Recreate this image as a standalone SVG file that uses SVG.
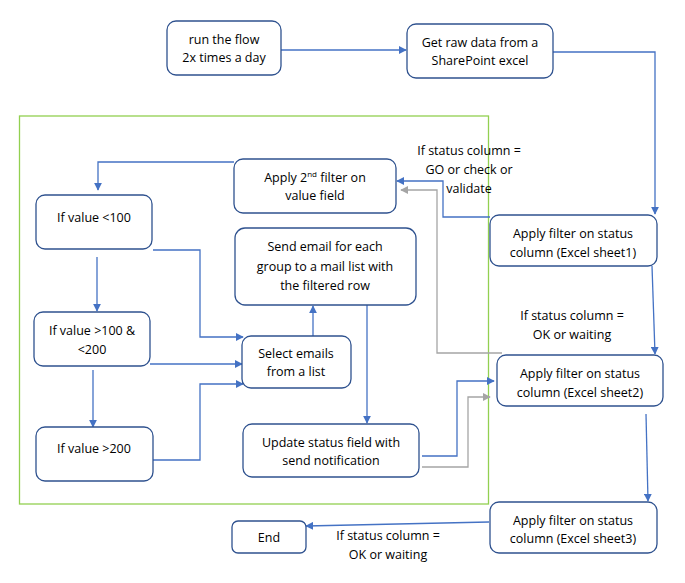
<svg xmlns="http://www.w3.org/2000/svg" width="685" height="583" viewBox="0 0 685 583">
<defs>
<marker id="ab" viewBox="0 0 10 10" refX="9" refY="5" markerWidth="8" markerHeight="8" markerUnits="userSpaceOnUse" orient="auto"><path d="M0,0 L10,5 L0,10 z" fill="#4472C4"/></marker>
<marker id="ag" viewBox="0 0 10 10" refX="9" refY="5" markerWidth="8" markerHeight="8" markerUnits="userSpaceOnUse" orient="auto"><path d="M0,0 L10,5 L0,10 z" fill="#A5A5A5"/></marker>
</defs>
<style>
.box{fill:#fff;stroke:#2F528F;stroke-width:1.3}
.t{font-family:"Open Sans","Liberation Sans",sans-serif;font-size:12.5px;fill:#000;text-anchor:middle}
.c{fill:none;stroke:#4472C4;stroke-width:1.3}
.g{fill:none;stroke:#A5A5A5;stroke-width:1.3}
</style>
<rect width="685" height="583" fill="#fff"/>
<rect id="container" x="19.5" y="116" width="469" height="388" fill="none" stroke="#92D050" stroke-width="1.3"/>
<g id="connectors">
<path class="c" d="M281,50 L406,50" marker-end="url(#ab)"/>
<path class="c" d="M553,52 L655,52 L655,214" marker-end="url(#ab)"/>
<path class="c" d="M652,266 L655,354" marker-end="url(#ab)"/>
<path class="c" d="M646,414 L648,501" marker-end="url(#ab)"/>
<path class="c" d="M489,522 L306,526" marker-end="url(#ab)"/>
<path class="c" d="M490,217 L443,217 L443,181 L397,181" marker-end="url(#ab)"/>
<path class="g" d="M502,353 L437,353 L437,190 L401,190" marker-end="url(#ag)"/>
<path class="c" d="M234,162 L98,162 L98,190" marker-end="url(#ab)"/>
<path class="c" d="M97,257 L97,311" marker-end="url(#ab)"/>
<path class="c" d="M93,370 L93,427" marker-end="url(#ab)"/>
<path class="c" d="M153,250 L200,250 L200,337 L243,337" marker-end="url(#ab)"/>
<path class="c" d="M150,364 L242,364" marker-end="url(#ab)"/>
<path class="c" d="M153,460 L200,460 L200,384 L243,384" marker-end="url(#ab)"/>
<path class="c" d="M313,336 L313,306" marker-end="url(#ab)"/>
<path class="c" d="M367,305 L367,423" marker-end="url(#ab)"/>
<path class="c" d="M422,456 L457,456 L457,381 L494,381" marker-end="url(#ab)"/>
<path class="g" d="M422,467 L468,467 L468,397 L490,397" marker-end="url(#ag)"/>
</g>
<g id="n-run"><rect class="box" x="167" y="21" width="114" height="54" rx="9"/><text class="t" x="224" y="44">run the flow</text><text class="t" x="224" y="62">2x times a day</text></g>
<g id="n-raw"><rect class="box" x="407" y="24" width="146" height="54" rx="9"/><text class="t" x="480" y="47">Get raw data from a</text><text class="t" x="480" y="65">SharePoint excel</text></g>
<g id="n-sheet1"><rect class="box" x="490" y="215" width="167" height="51" rx="9"/><text class="t" x="573" y="238">Apply filter on status</text><text class="t" x="573" y="257">column (Excel sheet1)</text></g>
<g id="n-sheet2"><rect class="box" x="497" y="355" width="166" height="51" rx="9"/><text class="t" x="580" y="378">Apply filter on status</text><text class="t" x="580" y="397">column (Excel sheet2)</text></g>
<g id="n-sheet3"><rect class="box" x="490" y="502" width="167" height="51" rx="9"/><text class="t" x="573" y="525">Apply filter on status</text><text class="t" x="573" y="543">column (Excel sheet3)</text></g>
<g id="n-end"><rect class="box" x="232" y="521" width="74" height="32" rx="6"/><text class="t" x="269" y="542">End</text></g>
<g id="n-filter2"><rect class="box" x="234" y="159" width="162" height="54" rx="9"/><text class="t" x="315" y="182">Apply 2<tspan font-size="8" dy="-5">nd</tspan><tspan dy="5"> filter on</tspan></text><text class="t" x="315" y="200">value field</text></g>
<g id="n-lt100"><rect class="box" x="36" y="195" width="116" height="54" rx="9"/><text class="t" x="94" y="222">If value &lt;100</text></g>
<g id="n-mid"><rect class="box" x="34" y="312" width="116" height="54" rx="9"/><text class="t" x="92" y="335">If value &gt;100 &amp;</text><text class="t" x="92" y="354">&lt;200</text></g>
<g id="n-gt200"><rect class="box" x="36" y="427" width="117" height="54" rx="9"/><text class="t" x="94" y="453">If value &gt;200</text></g>
<g id="n-select"><rect class="box" x="242" y="336" width="109" height="52" rx="9"/><text class="t" x="296" y="358">Select emails</text><text class="t" x="296" y="376">from a list</text></g>
<g id="n-send"><rect class="box" x="235" y="228" width="181" height="77" rx="10"/><text class="t" x="325" y="251">Send email for each</text><text class="t" x="325" y="271">group to a mail list with</text><text class="t" x="325" y="290">the filtered row</text></g>
<g id="n-update"><rect class="box" x="243" y="424" width="176" height="53" rx="9"/><text class="t" x="331" y="447">Update status field with</text><text class="t" x="331" y="465">send notification</text></g>
<g id="labels">
<text class="t" x="469" y="155">If status column =</text>
<text class="t" x="469" y="174">GO or check or</text>
<text class="t" x="469" y="193">validate</text>
<text class="t" x="572" y="320">If status column =</text>
<text class="t" x="572" y="339">OK or waiting</text>
<text class="t" x="388" y="540">If status column =</text>
<text class="t" x="388" y="559">OK or waiting</text>
</g>
</svg>
